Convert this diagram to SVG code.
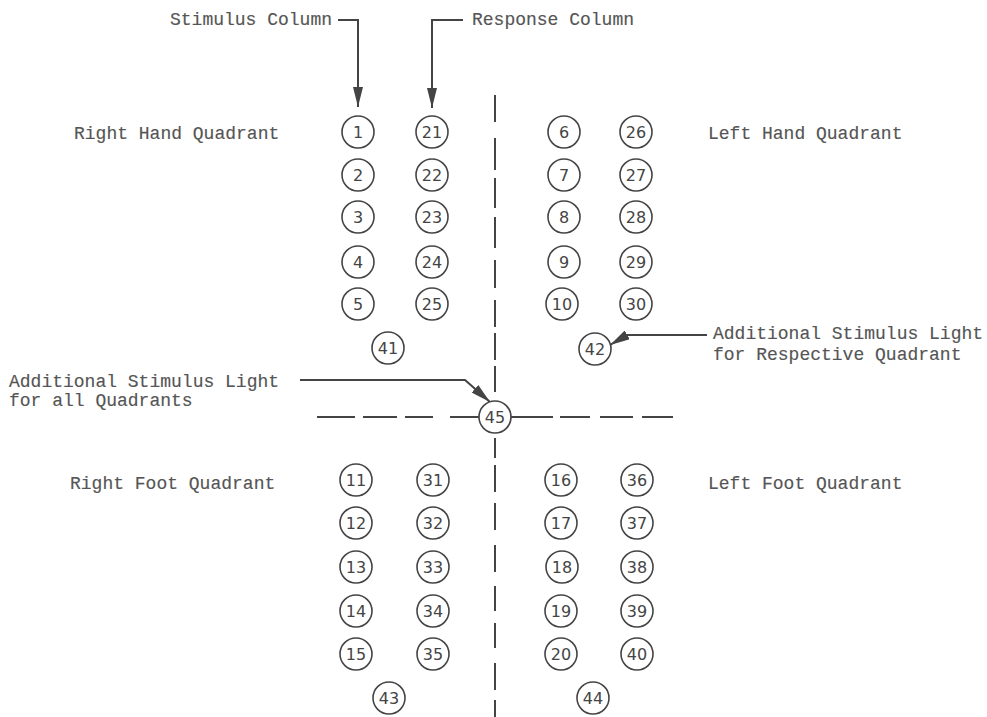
<svg xmlns="http://www.w3.org/2000/svg" width="987" height="717" viewBox="0 0 987 717">
<defs>
<style>
.lbl{font-family:"Liberation Mono","Courier New",monospace;font-size:18px;fill:#555;stroke:#555;stroke-width:0.15}
.num{font-family:"DejaVu Sans","Liberation Sans",sans-serif;font-size:16px;fill:#444;text-anchor:middle;dominant-baseline:central}
.c{fill:#fff;stroke:#444;stroke-width:1.6}
.ln{fill:none;stroke:#444;stroke-width:2}
.dash{fill:none;stroke:#444;stroke-width:2}
</style>
<marker id="ah" markerWidth="20" markerHeight="10" refX="20" refY="5" orient="auto" markerUnits="userSpaceOnUse">
<path d="M0,0 L20,5 L0,10 Z" fill="#444"/>
</marker>
</defs>
<rect width="987" height="717" fill="#fff"/>

<g id="labels">
<text class="lbl" x="170" y="25">Stimulus Column</text>
<text class="lbl" x="472" y="25">Response Column</text>
<text class="lbl" x="74" y="139">Right Hand Quadrant</text>
<text class="lbl" x="708" y="139">Left Hand Quadrant</text>
<text class="lbl" x="70" y="489">Right Foot Quadrant</text>
<text class="lbl" x="708" y="489">Left Foot Quadrant</text>
<text class="lbl" x="9" y="387">Additional Stimulus Light</text>
<text class="lbl" x="9" y="406">for all Quadrants</text>
<text class="lbl" x="713" y="339">Additional Stimulus Light</text>
<text class="lbl" x="713" y="360">for Respective Quadrant</text>
</g>

<g id="connectors">
<path class="dash" d="M495,95V122 M495,138V170 M495,178V208 M495,217V248 M495,260V288 M495,300V327 M495,333V360 M495,366V392 M495,438V458 M495,465V492 M495,503V530 M495,545V572 M495,586V611 M495,623V648 M495,663V690 M495,700V717"/>
<path class="dash" d="M317,417H355 M363,417H397 M405,417H433 M450,417H480 M510,417H553 M560,417H590 M600,417H633 M642,417H673"/>
<path class="ln" d="M338,20H358V107" marker-end="url(#ah)"/>
<path class="ln" d="M463,20H432V108" marker-end="url(#ah)"/>
<path class="ln" d="M300,380H465L490,402" marker-end="url(#ah)"/>
<path class="ln" d="M707,335H627L610,345" marker-end="url(#ah)"/>
</g>

<g id="n1"><circle class="c" cx="358" cy="132" r="16"/><text class="num" x="358" y="132">1</text></g>
<g id="n2"><circle class="c" cx="358" cy="175" r="16"/><text class="num" x="358" y="175">2</text></g>
<g id="n3"><circle class="c" cx="358" cy="217" r="16"/><text class="num" x="358" y="217">3</text></g>
<g id="n4"><circle class="c" cx="358" cy="262" r="16"/><text class="num" x="358" y="262">4</text></g>
<g id="n5"><circle class="c" cx="358" cy="304" r="16"/><text class="num" x="358" y="304">5</text></g>
<g id="n21"><circle class="c" cx="432" cy="132" r="16"/><text class="num" x="432" y="132">21</text></g>
<g id="n22"><circle class="c" cx="432" cy="175" r="16"/><text class="num" x="432" y="175">22</text></g>
<g id="n23"><circle class="c" cx="432" cy="217" r="16"/><text class="num" x="432" y="217">23</text></g>
<g id="n24"><circle class="c" cx="432" cy="262" r="16"/><text class="num" x="432" y="262">24</text></g>
<g id="n25"><circle class="c" cx="432" cy="304" r="16"/><text class="num" x="432" y="304">25</text></g>
<g id="n6"><circle class="c" cx="564" cy="132" r="16"/><text class="num" x="564" y="132">6</text></g>
<g id="n7"><circle class="c" cx="564" cy="175" r="16"/><text class="num" x="564" y="175">7</text></g>
<g id="n8"><circle class="c" cx="564" cy="217" r="16"/><text class="num" x="564" y="217">8</text></g>
<g id="n9"><circle class="c" cx="564" cy="262" r="16"/><text class="num" x="564" y="262">9</text></g>
<g id="n10"><circle class="c" cx="562" cy="304" r="16"/><text class="num" x="562" y="304">10</text></g>
<g id="n26"><circle class="c" cx="636" cy="132" r="16"/><text class="num" x="636" y="132">26</text></g>
<g id="n27"><circle class="c" cx="636" cy="175" r="16"/><text class="num" x="636" y="175">27</text></g>
<g id="n28"><circle class="c" cx="636" cy="217" r="16"/><text class="num" x="636" y="217">28</text></g>
<g id="n29"><circle class="c" cx="636" cy="262" r="16"/><text class="num" x="636" y="262">29</text></g>
<g id="n30"><circle class="c" cx="636" cy="304" r="16"/><text class="num" x="636" y="304">30</text></g>
<g id="n41"><circle class="c" cx="388" cy="348" r="16"/><text class="num" x="388" y="348">41</text></g>
<g id="n42"><circle class="c" cx="595" cy="349" r="16"/><text class="num" x="595" y="349">42</text></g>
<g id="n45"><circle class="c" cx="495" cy="417" r="16"/><text class="num" x="495" y="417">45</text></g>
<g id="n11"><circle class="c" cx="356" cy="480" r="16"/><text class="num" x="356" y="480">11</text></g>
<g id="n12"><circle class="c" cx="356" cy="523" r="16"/><text class="num" x="356" y="523">12</text></g>
<g id="n13"><circle class="c" cx="356" cy="567" r="16"/><text class="num" x="356" y="567">13</text></g>
<g id="n14"><circle class="c" cx="356" cy="611" r="16"/><text class="num" x="356" y="611">14</text></g>
<g id="n15"><circle class="c" cx="356" cy="654" r="16"/><text class="num" x="356" y="654">15</text></g>
<g id="n31"><circle class="c" cx="433" cy="480" r="16"/><text class="num" x="433" y="480">31</text></g>
<g id="n32"><circle class="c" cx="433" cy="523" r="16"/><text class="num" x="433" y="523">32</text></g>
<g id="n33"><circle class="c" cx="433" cy="567" r="16"/><text class="num" x="433" y="567">33</text></g>
<g id="n34"><circle class="c" cx="433" cy="611" r="16"/><text class="num" x="433" y="611">34</text></g>
<g id="n35"><circle class="c" cx="433" cy="654" r="16"/><text class="num" x="433" y="654">35</text></g>
<g id="n16"><circle class="c" cx="561" cy="480" r="16"/><text class="num" x="561" y="480">16</text></g>
<g id="n17"><circle class="c" cx="561" cy="523" r="16"/><text class="num" x="561" y="523">17</text></g>
<g id="n18"><circle class="c" cx="562" cy="567" r="16"/><text class="num" x="562" y="567">18</text></g>
<g id="n19"><circle class="c" cx="561" cy="611" r="16"/><text class="num" x="561" y="611">19</text></g>
<g id="n20"><circle class="c" cx="561" cy="654" r="16"/><text class="num" x="561" y="654">20</text></g>
<g id="n36"><circle class="c" cx="637" cy="480" r="16"/><text class="num" x="637" y="480">36</text></g>
<g id="n37"><circle class="c" cx="637" cy="523" r="16"/><text class="num" x="637" y="523">37</text></g>
<g id="n38"><circle class="c" cx="637" cy="567" r="16"/><text class="num" x="637" y="567">38</text></g>
<g id="n39"><circle class="c" cx="637" cy="611" r="16"/><text class="num" x="637" y="611">39</text></g>
<g id="n40"><circle class="c" cx="637" cy="654" r="16"/><text class="num" x="637" y="654">40</text></g>
<g id="n43"><circle class="c" cx="389" cy="698" r="16"/><text class="num" x="389" y="698">43</text></g>
<g id="n44"><circle class="c" cx="593" cy="698" r="16"/><text class="num" x="593" y="698">44</text></g>
</svg>
